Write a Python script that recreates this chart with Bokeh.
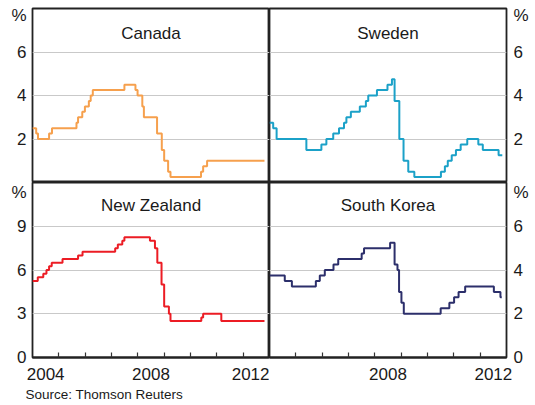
from bokeh.plotting import figure
from bokeh.layouts import gridplot
from bokeh.models import Range1d, FixedTicker, LinearAxis, Label, Title, CustomJSTickFormatter
from bokeh.embed import file_html
from bokeh.resources import INLINE

# ---- data (decimal year of each rate change, policy rate in %) ----
canada_x = [2004.00, 2004.14, 2004.21, 2004.63, 2004.74, 2005.67, 2005.73, 2005.89, 2005.99,
            2006.14, 2006.21, 2006.29, 2007.49, 2007.91, 2007.99, 2008.17, 2008.23, 2008.73,
            2008.91, 2009.00, 2009.15, 2009.24, 2010.40, 2010.48, 2010.63, 2012.81]
canada_y = [2.50, 2.25, 2.00, 2.25, 2.50, 2.75, 3.00, 3.25, 3.50,
            3.75, 4.00, 4.25, 4.50, 4.25, 4.00, 3.50, 3.00, 2.25,
            1.50, 1.00, 0.50, 0.25, 0.50, 0.75, 1.00, 1.00]

sweden_x = [2004.00, 2004.14, 2004.27, 2005.40, 2005.97, 2006.16, 2006.42, 2006.64, 2006.83,
            2006.92, 2007.09, 2007.43, 2007.66, 2007.75, 2008.08, 2008.48, 2008.65, 2008.75,
            2008.93, 2009.09, 2009.27, 2009.50, 2010.51, 2010.66, 2010.77, 2010.92, 2011.08,
            2011.26, 2011.51, 2011.93, 2012.10, 2012.70, 2012.84]
sweden_y = [2.75, 2.50, 2.00, 1.50, 1.75, 2.00, 2.25, 2.50, 2.75,
            3.00, 3.25, 3.50, 3.75, 4.00, 4.25, 4.50, 4.75, 3.75,
            2.00, 1.00, 0.50, 0.25, 0.50, 0.75, 1.00, 1.25, 1.50,
            1.75, 2.00, 1.75, 1.50, 1.25, 1.25]

nz_x = [2004.00, 2004.20, 2004.41, 2004.53, 2004.63, 2004.73, 2005.14, 2005.73, 2005.90,
        2007.14, 2007.24, 2007.41, 2007.49, 2008.46, 2008.65, 2008.74, 2008.90, 2009.00,
        2009.18, 2009.24, 2010.41, 2010.48, 2011.17, 2012.81]
nz_y = [5.25, 5.50, 5.75, 6.00, 6.25, 6.50, 6.75, 7.00, 7.25,
        7.50, 7.75, 8.00, 8.25, 8.00, 7.50, 6.50, 5.00, 3.50,
        3.00, 2.50, 2.75, 3.00, 2.50, 2.50]

korea_x = [2004.00, 2004.58, 2004.85, 2005.76, 2005.91, 2006.10, 2006.43, 2006.61, 2007.50,
           2007.59, 2008.58, 2008.75, 2008.86, 2008.92, 2009.01, 2009.10, 2010.50, 2010.83,
           2011.01, 2011.18, 2011.43, 2012.52, 2012.77, 2012.82]
korea_y = [3.75, 3.50, 3.25, 3.50, 3.75, 4.00, 4.25, 4.50, 4.75,
           5.00, 5.25, 4.25, 4.00, 3.00, 2.50, 2.00, 2.25, 2.50,
           2.75, 3.00, 3.25, 3.00, 2.75, 2.75]

titles = ["Canada", "Sweden", "New Zealand", "South Korea"]
year_ticks = [2005, 2006, 2007, 2008, 2009, 2010, 2011, 2012]
left_year_labels = [2004, 2008, 2012]
right_year_labels = [2008, 2012]
ticks_top = [2, 4, 6]
ticks_korea = [0, 2, 4, 6]
ticks_nz = [0, 3, 6, 9]
unit = "%"
source = "Source: Thomson Reuters"

FONT = "Liberation Sans"
TXT = "#1a1a1a"
EDGE = "#222222"
X0, X1 = 2004, 2013
FRAME_W = 237


def panel(title, xs, ys, color, ymax, yticks, side, bottom, width, height, frame_h,
          borders, year_labels, title_off):
    bl, br, bt, bb = borders
    p = figure(width=width, height=height, output_backend="svg", toolbar_location=None,
               x_range=Range1d(X0, X1), y_range=Range1d(0, ymax),
               x_axis_location=None, y_axis_location=None,
               min_border_left=bl, min_border_right=br, min_border_top=bt, min_border_bottom=bb)
    p.background_fill_color = "white"
    p.border_fill_color = "white"
    p.outline_line_color = EDGE
    p.outline_line_width = 1.8
    p.xgrid.visible = False
    p.ygrid.ticker = FixedTicker(ticks=[t for t in yticks if 0 < t < ymax])
    p.ygrid.grid_line_color = "#c9c9c9"
    p.ygrid.grid_line_width = 1

    # "%" sits on the value axis, a few pixels under the top of the panel
    pct_pos = ymax - 6.5 * ymax / frame_h
    yax = LinearAxis(ticker=FixedTicker(ticks=list(yticks) + [pct_pos]),
                     formatter=CustomJSTickFormatter(
                         args=dict(top=ymax, unit=unit),
                         code="return (tick > top - 1) ? unit : String(tick)"),
                     major_tick_in=0, major_tick_out=0, minor_tick_in=0, minor_tick_out=0,
                     axis_line_color=None,
                     major_label_text_font=FONT, major_label_text_font_size="17px",
                     major_label_text_color=TXT,
                     major_label_standoff=6 if side == "left" else 7)
    p.add_layout(yax, side)

    if bottom:
        pos = []
        for yr in year_labels:
            c = yr + 0.5
            if c + 0.5 > X1 and side == "left":
                c -= 6.5 * (X1 - X0) / FRAME_W  # keep the label inside its own panel
            pos.append(c)
        xax = LinearAxis(ticker=FixedTicker(ticks=pos, minor_ticks=year_ticks),
                         formatter=CustomJSTickFormatter(code="return Math.floor(tick).toString()"),
                         major_tick_in=0, major_tick_out=0,
                         minor_tick_in=5, minor_tick_out=0,
                         minor_tick_line_color="#333333", minor_tick_line_width=1.2,
                         axis_line_color=EDGE, axis_line_width=1.8,
                         major_label_text_font=FONT, major_label_text_font_size="17px",
                         major_label_text_color=TXT, major_label_standoff=10)
        p.add_layout(xax, "below")

    p.step(xs, ys, mode="after", line_color=color, line_width=2)

    p.add_layout(Label(x=(X0 + X1) / 2, y=ymax, y_offset=title_off, text=title,
                       text_align="center", text_baseline="alphabetic", text_font=FONT,
                       text_font_size="17px", text_color=TXT))
    return p


tl = panel(titles[0], canada_x, canada_y, "#F6A04D", 8, ticks_top, "left", False,
           269, 182, 174, (32, 0, 8, 0), None, -25)
tr = panel(titles[1], sweden_x, sweden_y, "#1BA1C8", 8, ticks_top, "right", False,
           266, 182, 174, (0, 29, 8, 0), None, -25)
bl = panel(titles[2], nz_x, nz_y, "#EC1C24", 12, ticks_nz, "left", True,
           269, 223, 175, (32, 0, 0, 48), left_year_labels, -23)
br = panel(titles[3], korea_x, korea_y, "#2C2F6B", 8, ticks_korea, "right", True,
           266, 223, 175, (0, 29, 0, 48), right_year_labels, -23)

bl.add_layout(Title(text=source, align="left", offset=-7, standoff=5,
                    text_font=FONT, text_font_size="13.5px", text_font_style="normal",
                    text_color=TXT), "below")

grid = gridplot([[tl, tr], [bl, br]], toolbar_location=None)

open("out.html", "w").write(file_html(grid, INLINE))
